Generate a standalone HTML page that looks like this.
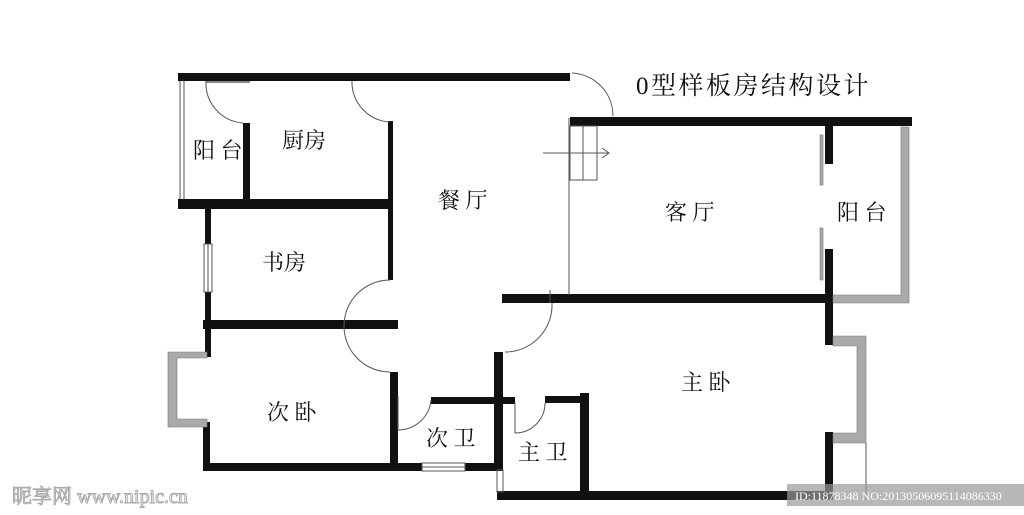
<!DOCTYPE html>
<html><head><meta charset="utf-8"><style>
html,body{margin:0;padding:0;background:#fff;}
svg{display:block;}
text{font-family:"Liberation Serif","Noto Serif CJK SC",serif;fill:#111;}
</style></head><body>
<svg width="1024" height="515" viewBox="0 0 1024 515" xmlns="http://www.w3.org/2000/svg">
<rect width="1024" height="515" fill="#fff"/>
<g fill="#111">
<rect x="178" y="73" width="392" height="8"/>
<rect x="178" y="199" width="215" height="10"/>
<rect x="243" y="123" width="7" height="78"/>
<rect x="388" y="121" width="5" height="159"/>
<rect x="205" y="209" width="6" height="35"/>
<rect x="205" y="292" width="6" height="65"/>
<rect x="203" y="320" width="195" height="9"/>
<rect x="203" y="422" width="7" height="49"/>
<rect x="203" y="463" width="219" height="8"/>
<rect x="465" y="463" width="38" height="8"/>
<rect x="390" y="372" width="8" height="97"/>
<rect x="431" y="397" width="84" height="7"/>
<rect x="494" y="352" width="9" height="118"/>
<rect x="545" y="396" width="43" height="7"/>
<rect x="580" y="393" width="9" height="106"/>
<rect x="497" y="491" width="336" height="9"/>
<rect x="570" y="117" width="342" height="9"/>
<rect x="502" y="294" width="331" height="9"/>
<rect x="825" y="117" width="8" height="47"/>
<rect x="825" y="249" width="8" height="96"/>
<rect x="825" y="432" width="8" height="67"/>
</g>
<g fill="#aaa" stroke="#777" stroke-width="0.6">
<path d="M901 127 H909 V303 H833 V295 H901 Z"/>
<path d="M833 336 H866 V443 H833 V433 H857 V346 H833 Z"/>
<path d="M207 352 V358 H177 V419 H207 V427 H168 V352 Z"/>
<rect x="820" y="135" width="3" height="50"/>
<rect x="820" y="228" width="3" height="52"/>
</g>
<g fill="none" stroke="#555" stroke-width="1">
<line x1="180" y1="81" x2="180" y2="199"/><line x1="184" y1="81" x2="184" y2="199"/>
<line x1="206" y1="82" x2="250" y2="82" stroke="#888" stroke-width="2"/>
<rect x="204" y="244" width="8" height="48"/><line x1="208" y1="244" x2="208" y2="292"/>
<rect x="422" y="463" width="43" height="8"/><line x1="422" y1="467" x2="465" y2="467"/>
<rect x="497" y="470" width="6" height="22"/>
<line x1="866" y1="443" x2="866" y2="500"/>
<path d="M206 81 A40 40 0 0 0 243 123"/>
<path d="M352 81 A40 40 0 0 0 390 122"/>
<path d="M572 73 A43 43 0 0 1 613 116"/>
<path d="M390 280 A46 46 0 0 0 390 372"/>
<path d="M552 303 A47 47 0 0 1 505 352"/>
<line x1="550" y1="290" x2="550" y2="303"/>
<line x1="398" y1="396" x2="398" y2="430"/>
<path d="M431 400 A33 33 0 0 1 398 430"/>
<line x1="515" y1="403" x2="515" y2="433"/>
<path d="M545 403 A30 30 0 0 1 515 433"/>
<line x1="569" y1="118" x2="569" y2="295"/>
<rect x="570" y="126" width="27" height="54"/>
<line x1="583" y1="126" x2="583" y2="180"/>
<line x1="543" y1="153" x2="609" y2="153"/>
<path d="M602 148 L609 153 L602 158"/>
</g>
<g font-size="22">
<text x="193" y="158">阳 台</text>
<text x="282" y="148">厨房</text>
<text x="438" y="208">餐 厅</text>
<text x="262" y="270">书房</text>
<text x="665" y="220">客 厅</text>
<text x="837" y="220">阳 台</text>
<text x="681" y="390">主 卧</text>
<text x="267" y="420">次 卧</text>
<text x="426" y="446">次 卫</text>
<text x="518" y="460">主 卫</text>
<text x="636" y="94" font-size="25" letter-spacing="2.5">0型样板房结构设计</text>
</g>
<text x="12" y="503" font-size="20" style="fill:#fff;stroke:#aaa;stroke-width:1" font-family="Liberation Sans, Noto Sans CJK SC, sans-serif">昵享网 www.nipic.cn</text>
<rect x="787" y="484" width="237" height="22" fill="#999" opacity="0.7"/>
<text x="795" y="500" font-size="12" style="fill:#fff" font-family="Liberation Sans, sans-serif">ID:11878348 NO:20130506095114086330</text>
</svg>
</body></html>
